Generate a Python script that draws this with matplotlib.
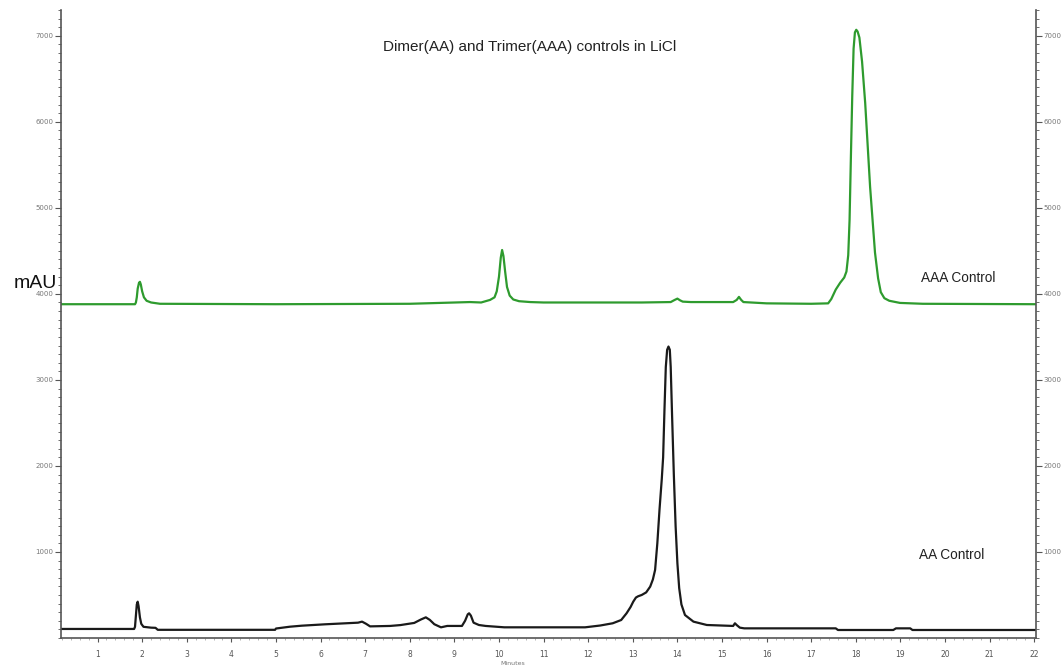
import matplotlib
matplotlib.use('Agg')
import matplotlib.pyplot as plt
import matplotlib.ticker as ticker

# AAA control trace (minutes, mAU), offset above the AA trace
aaa_time = [0.18, 1.84, 1.86, 1.88, 1.90, 1.93, 1.95, 1.97, 2.00, 2.04, 2.10, 2.20, 2.40,
            5.0, 8.0, 9.35, 9.6, 9.8, 9.90, 9.95, 10.00, 10.04, 10.07, 10.10, 10.14, 10.18,
            10.24, 10.32, 10.45, 10.7, 11.0, 13.2, 13.85, 13.94, 14.0, 14.06, 14.12, 14.3,
            15.25, 15.33, 15.38, 15.43, 15.48, 16.0, 17.0, 17.38, 17.45, 17.55, 17.65, 17.74,
            17.79, 17.83, 17.86, 17.89, 17.92, 17.95, 17.98, 18.01, 18.04, 18.08, 18.14,
            18.21, 18.32, 18.43, 18.50, 18.56, 18.64, 18.75, 18.99, 19.5, 22.04]
aaa_mau = [3880, 3880, 3900, 3960, 4060, 4130, 4140, 4110, 4030, 3960, 3920, 3900, 3885,
           3880, 3885, 3905, 3900, 3930, 3960, 4030, 4200, 4420, 4510, 4440, 4250, 4080,
           3980, 3935, 3915, 3905, 3900, 3900, 3905, 3930, 3945, 3925, 3910, 3905,
           3905, 3930, 3965, 3930, 3905, 3890, 3885, 3890, 3940, 4050, 4130, 4190,
           4260, 4450, 4860, 5600, 6300, 6850, 7040, 7070, 7050, 6980, 6700,
           6220, 5245, 4480, 4180, 4020, 3950, 3920, 3895, 3885, 3880]

# AA control trace (minutes, mAU)
aa_time = [0.18, 1.82, 1.84, 1.86, 1.88, 1.90, 1.92, 1.95, 1.98, 2.03, 2.2, 2.3, 2.35,
           4.98, 5.0, 5.31, 5.58, 6.10, 6.84, 6.93, 7.02, 7.11, 7.56, 7.79, 8.10, 8.25,
           8.36, 8.45, 8.55, 8.70, 8.84, 9.17, 9.24, 9.30, 9.33, 9.37, 9.43, 9.55, 9.70,
           10.12, 11.93, 12.27, 12.55, 12.74, 12.86, 12.95, 13.01, 13.07, 13.12, 13.20,
           13.30, 13.39, 13.45, 13.50, 13.55, 13.60, 13.65, 13.68, 13.71, 13.74, 13.77,
           13.80, 13.83, 13.85, 13.88, 13.92, 13.96, 14.00, 14.04, 14.09, 14.17, 14.36,
           14.66, 15.25, 15.29, 15.33, 15.40, 15.50, 17.55, 17.6, 18.84, 18.9, 19.22,
           19.27, 22.04]
aa_mau = [105, 105, 130, 260, 390, 422, 370, 240, 165, 130, 120, 118, 95,
          95, 110, 131, 143, 159, 178, 190, 165, 135, 140, 150, 175, 215,
          240, 210, 160, 124, 140, 140, 200, 275, 287, 260, 178, 151, 140,
          124, 124, 145, 171, 209, 287, 360, 422, 470, 485, 500,
          530, 597, 680, 791, 1100, 1500, 1850, 2100, 2650, 3150, 3350,
          3388, 3350, 3150, 2600, 1900, 1300, 869, 580, 390, 267, 190,
          151, 140, 171, 150, 120, 112, 112, 93, 93, 112, 112,
          93, 93]

minute_ticks = list(range(1, 23))
mau_ticks = [1000, 2000, 3000, 4000, 5000, 6000, 7000]

fig = plt.figure(figsize=(10.64, 6.67), dpi=100)
ax = fig.add_axes([0.0573, 0.0435, 0.9164, 0.9415])

ax.plot(aaa_time, aaa_mau, color='#2e9b2e', lw=1.6)
ax.plot(aa_time, aa_mau, color='#1a1a1a', lw=1.6)

ax.set_xlim(0.18, 22.04)
ax.set_ylim(0, 7300)

ax.set_xticks(minute_ticks)
ax.xaxis.set_minor_locator(ticker.MultipleLocator(0.2))
ax.set_yticks(mau_ticks)
ax.yaxis.set_minor_locator(ticker.MultipleLocator(100))

ax.spines['top'].set_visible(False)
for side in ['left', 'right', 'bottom']:
    ax.spines[side].set_color('#555555')
    ax.spines[side].set_linewidth(1.2)

ax.tick_params(axis='y', which='both', left=True, right=True, labelleft=True, labelright=True,
               direction='out', colors='#555555', labelsize=5, labelcolor='#777777')
ax.tick_params(axis='y', which='major', length=4, width=0.8, pad=1.5)
ax.tick_params(axis='y', which='minor', length=2.5, width=0.6)
ax.tick_params(axis='x', which='major', length=3, width=0.8, colors='#555555',
               labelsize=5.5, labelcolor='#555555', pad=6)
ax.tick_params(axis='x', which='minor', length=1.5, width=0.5, colors='#999999')

text_font = ['Liberation Sans', 'DejaVu Sans']
fig.text(0.498, 0.9295, 'Dimer(AA) and Trimer(AAA) controls in LiCl', ha='center', va='center',
         fontsize=11, family=text_font, color='#222222')
fig.text(0.901, 0.583, 'AAA Control', ha='center', va='center', fontsize=9.8,
         family=text_font, color='#222222')
fig.text(0.894, 0.168, 'AA Control', ha='center', va='center', fontsize=9.8,
         family=text_font, color='#222222')
fig.text(0.033, 0.575, 'mAU', ha='center', va='center', fontsize=14,
         family=text_font, color='#111111')
fig.text(0.482, 0.002, 'Minutes', ha='center', va='bottom', fontsize=4.5, color='#777777')

plt.savefig('out.png', dpi=100)
